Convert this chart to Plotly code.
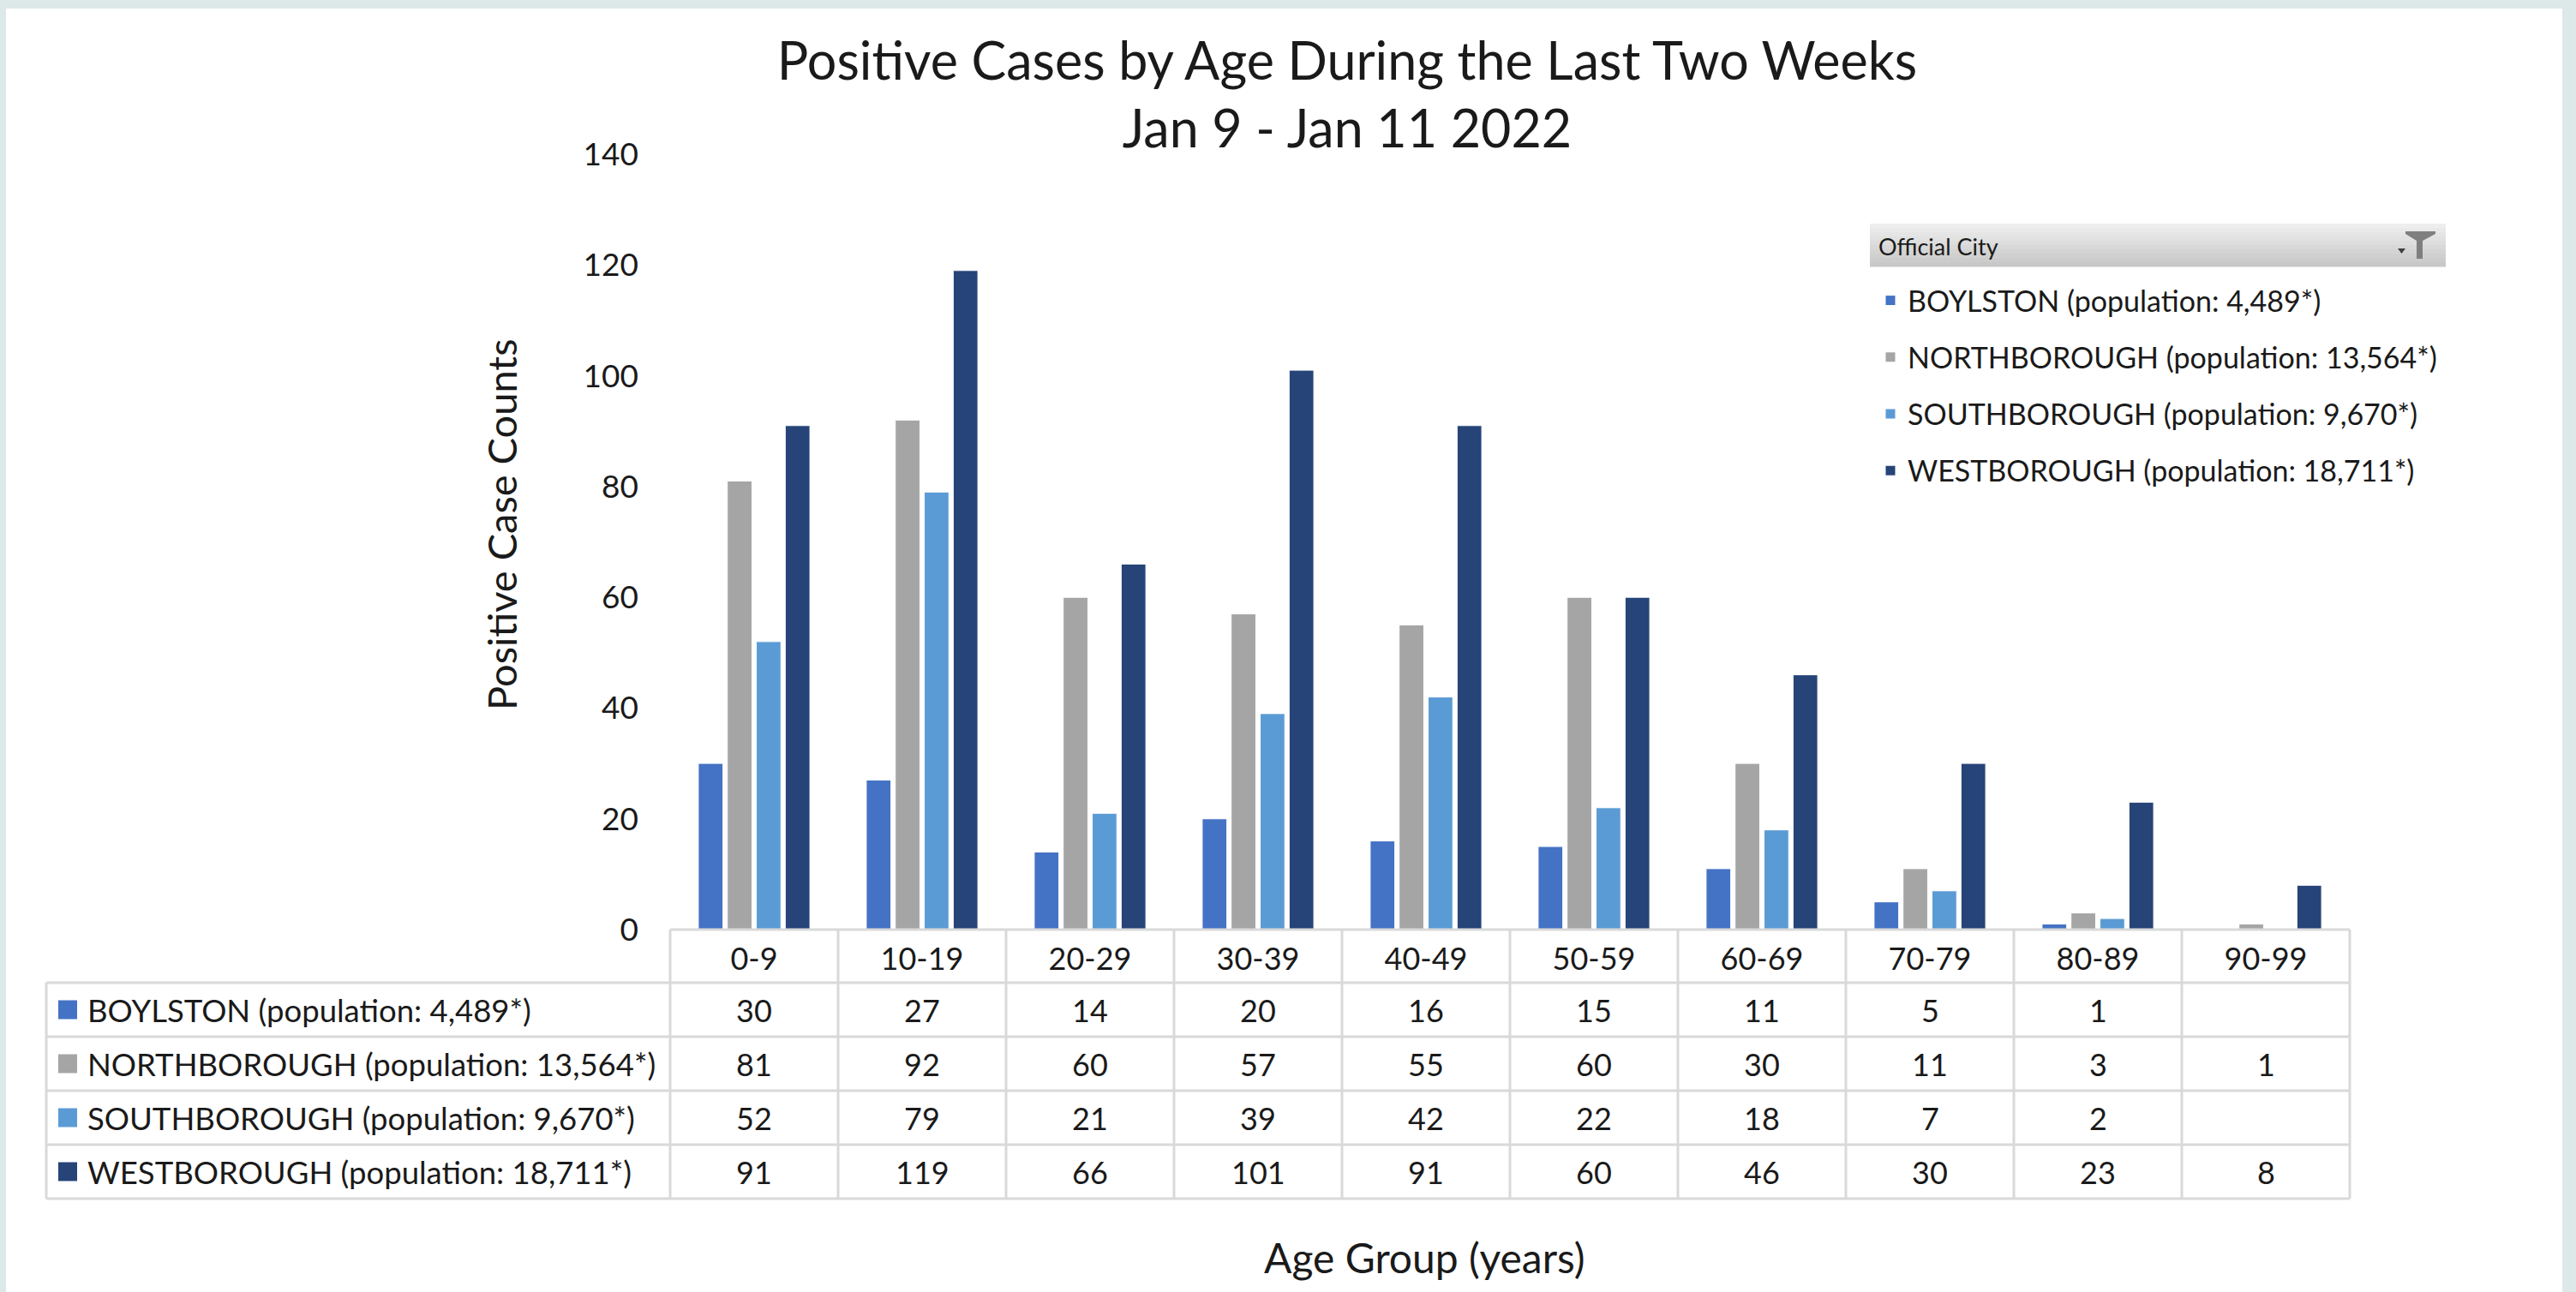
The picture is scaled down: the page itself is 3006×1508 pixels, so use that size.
import plotly.graph_objects as go

# ---------------- data ----------------
categories = ["0-9", "10-19", "20-29", "30-39", "40-49", "50-59", "60-69", "70-79", "80-89", "90-99"]
series_names = [
    "BOYLSTON (population: 4,489*)",
    "NORTHBOROUGH (population: 13,564*)",
    "SOUTHBOROUGH (population: 9,670*)",
    "WESTBOROUGH (population: 18,711*)",
]
boylston = [30, 27, 14, 20, 16, 15, 11, 5, 1, None]
northborough = [81, 92, 60, 57, 55, 60, 30, 11, 3, 1]
southborough = [52, 79, 21, 39, 42, 22, 18, 7, 2, None]
westborough = [91, 119, 66, 101, 91, 60, 46, 30, 23, 8]
y_ticks = [0, 20, 40, 60, 80, 100, 120, 140]
colors = ["#4472C4", "#A5A5A5", "#5B9BD5", "#264478"]

title_text = "Positive Cases by Age During the Last Two Weeks<br>Jan 9 - Jan 11 2022"
y_title = "Positive Case Counts"
x_title = "Age Group (years)"
legend_title = "Official City"

series_values = [boylston, northborough, southborough, westborough]

# ---------------- layout constants (pixels) ----------------
W, H = 3006, 1508
PL, PR, PT, PB = 782, 2742, 180, 1085
FONT = "Lato, 'Open Sans', sans-serif"
TXT = "#1a1a1a"
GRID = "#D9D9D9"


def px(X):
    return (X - PL) / (PR - PL)


def py(Y):
    return (PB - Y) / (PB - PT)


fig = go.Figure()
for name, vals, col in zip(series_names, series_values, colors):
    fig.add_trace(go.Bar(
        x=categories, y=vals, name=name, legendgroup=name,
        marker=dict(color=col, line=dict(color="white", width=1)),
    ))

shapes = []
annotations = []

# page frame
shapes.append(dict(type="rect", xref="paper", yref="paper", layer="below",
                   x0=px(7), x1=px(2990), y0=py(10), y1=py(H + 5),
                   fillcolor="white", line=dict(width=0)))

# table grid
row_lines = [1147, 1210, 1273, 1336, 1399]
ncat = len(categories)
gl = dict(color=GRID, width=3)
shapes.append(dict(type="line", xref="paper", yref="paper", x0=0, x1=1,
                   y0=py(PB), y1=py(PB), line=gl))
for Y in row_lines:
    shapes.append(dict(type="line", xref="paper", yref="paper", x0=px(54), x1=1,
                       y0=py(Y), y1=py(Y), line=gl))
shapes.append(dict(type="line", xref="paper", yref="paper", x0=px(54), x1=px(54),
                   y0=py(row_lines[0]), y1=py(row_lines[-1]), line=gl))
for i in range(ncat + 1):
    xp = i / ncat
    shapes.append(dict(type="line", xref="paper", yref="paper", x0=xp, x1=xp,
                       y0=py(PB), y1=py(row_lines[-1]), line=gl))

# table rows: colour key, label, values
for r, (name, vals, col) in enumerate(zip(series_names, series_values, colors)):
    yc = (row_lines[r] + row_lines[r + 1]) / 2
    shapes.append(dict(type="rect", xref="paper", yref="paper",
                       x0=px(68), x1=px(90), y0=py(yc - 11), y1=py(yc + 11),
                       fillcolor=col, line=dict(width=0)))
    annotations.append(dict(xref="paper", yref="paper", x=px(100), y=py(yc),
                            xanchor="left", yanchor="middle", showarrow=False,
                            text=name, font=dict(size=36.5, color=TXT, family=FONT)))
    for cat, v in zip(categories, vals):
        if v is None:
            continue
        annotations.append(dict(xref="x", yref="paper", x=cat, y=py(yc),
                                xanchor="center", yanchor="middle", showarrow=False,
                                text=str(v), font=dict(size=36, color=TXT, family=FONT)))

# axis titles
annotations.append(dict(xref="paper", yref="paper", x=px(1662), y=py(1467),
                        xanchor="center", yanchor="middle", showarrow=False,
                        text=x_title, font=dict(size=48, color=TXT, family=FONT)))
annotations.append(dict(xref="paper", yref="paper", x=px(585), y=py(613),
                        xanchor="center", yanchor="middle", showarrow=False,
                        textangle=-90,
                        text=y_title, font=dict(size=47, color=TXT, family=FONT)))

# legend header bar (gradient-like strips)
hx0, hx1, hy0, hy1 = 2182, 2854, 261, 311
nstrip = 10
for k in range(nstrip):
    g = int(238 - (238 - 200) * k / (nstrip - 1))
    ya = hy0 + (hy1 - hy0) * k / nstrip
    yb = hy0 + (hy1 - hy0) * (k + 1) / nstrip
    shapes.append(dict(type="rect", xref="paper", yref="paper",
                       x0=px(hx0), x1=px(hx1), y0=py(ya), y1=py(yb + 0.5),
                       fillcolor=f"rgb({g},{g},{g})", line=dict(width=0)))
annotations.append(dict(xref="paper", yref="paper", x=px(2190), y=py(287),
                        xanchor="left", yanchor="middle", showarrow=False,
                        text=legend_title, font=dict(size=27, color=TXT, family=FONT)))


def ppath(points):
    return "M " + " L ".join(f"{px(a):.5f},{py(b):.5f}" for a, b in points) + " Z"


funnel = [(2807, 270), (2842, 270), (2842, 273), (2827, 281), (2827, 302),
          (2820, 302), (2820, 281), (2807, 273)]
shapes.append(dict(type="path", xref="paper", yref="paper", path=ppath(funnel),
                   fillcolor="#7F7F7F", line=dict(width=0)))
tri = [(2798, 290), (2807, 290), (2802.5, 296)]
shapes.append(dict(type="path", xref="paper", yref="paper", path=ppath(tri),
                   fillcolor="#404040", line=dict(width=0)))

fig.update_layout(
    width=W, height=H,
    margin=dict(l=PL, r=W - PR, t=PT, b=H - PB, pad=0),
    paper_bgcolor="#DDE8E8",
    plot_bgcolor="rgba(0,0,0,0)",
    font=dict(family=FONT, color=TXT),
    title=dict(text=title_text, x=1572 / W, xanchor="center", xref="container",
               y=1 - 93 / H, yanchor="middle", yref="container",
               font=dict(size=61, color=TXT, family=FONT)),
    barmode="group", bargap=0.31, bargroupgap=0.15,
    xaxis=dict(range=[-0.5, ncat - 0.5], showgrid=False, showline=False, zeroline=False,
               ticks="", tickfont=dict(size=36, color=TXT), ticklabelstandoff=10,
               fixedrange=True),
    yaxis=dict(range=[0, 140], tickvals=y_ticks, showgrid=False, showline=False,
               zeroline=False, ticks="", tickfont=dict(size=37, color=TXT),
               ticklabelstandoff=36, fixedrange=True),
    showlegend=True,
    legend=dict(x=px(2186), y=py(322), xanchor="left", yanchor="top",
                bgcolor="rgba(0,0,0,0)", font=dict(size=34, color=TXT, family=FONT),
                tracegroupgap=19, itemclick=False),
    shapes=shapes,
    annotations=annotations,
)

fig.write_html("out.html", config={"displayModeBar": False},
               post_script="document.body.style.margin='0';")
